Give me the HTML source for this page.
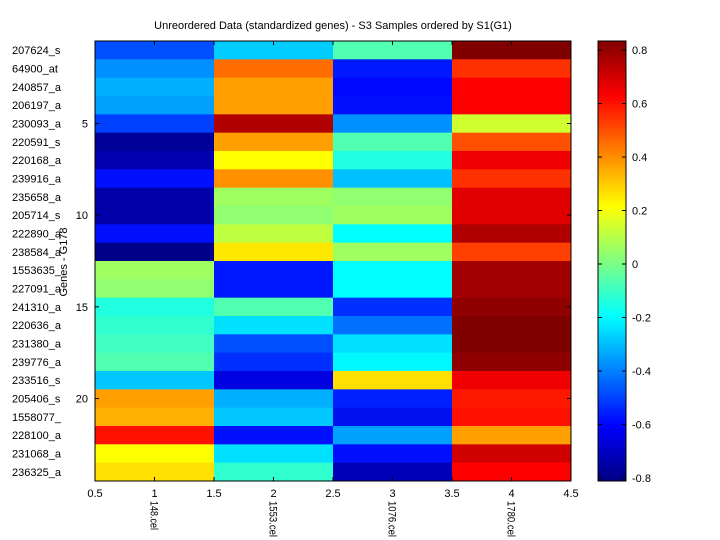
<!DOCTYPE html>
<html><head><style>body{margin:0;background:#fff}svg{display:block}text{font-family:"Liberation Sans",sans-serif;font-size:11px;fill:#000}</style></head><body>
<svg width="720" height="540" xmlns="http://www.w3.org/2000/svg">
<defs><linearGradient id="jet" x1="0" y1="0" x2="0" y2="1">
<stop offset="0" stop-color="#800000"/><stop offset="0.125" stop-color="#ff0000"/><stop offset="0.375" stop-color="#ffff00"/><stop offset="0.625" stop-color="#00ffff"/><stop offset="0.875" stop-color="#0000ff"/><stop offset="1" stop-color="#000080"/></linearGradient></defs>
<text x="333" y="29" text-anchor="middle">Unreordered Data (standardized genes) - S3 Samples ordered by S1(G1)</text>
<g id="cells"></g>
<rect x="95" y="41" width="476" height="440" fill="none" stroke="#000"/>
<g id="lab"></g>
<rect x="598" y="41" width="28" height="440" fill="url(#jet)" stroke="#000"/>
<g id="cb"></g>
<text transform="translate(67,262) rotate(-90)" text-anchor="middle">Genes - G178</text>
<script>
var rows=[["207624_s","#0050ff","#00ccff","#50ffb0","#800000"],["64900_at","#0090ff","#ff6c00","#0018ff","#ff3000"],["240857_a","#00b0ff","#ffa000","#0008ff","#ff0000"],["206197_a","#00a0ff","#ffa000","#0010ff","#ff0000"],["230093_a","#0040ff","#b00000","#0090ff","#d0ff30"],["220591_s","#000098","#ffa000","#50ffb0","#ff5000"],["220168_a","#0000b0","#ffff00","#20ffe0","#f00000"],["239916_a","#0010ff","#ff9000","#00c0ff","#ff3000"],["235658_a","#0000a8","#a0ff60","#90ff70","#e00000"],["205714_s","#0000a8","#90ff70","#a0ff60","#e00000"],["222890_a","#0010ff","#c0ff40","#00ffff","#b00000"],["238584_a","#000088","#ffe800","#a0ff60","#ff4000"],["1553635_","#a0ff60","#0018ff","#00ffff","#a00000"],["227091_a","#90ff70","#0018ff","#00ffff","#a00000"],["241310_a","#20ffe0","#50ffb0","#0030ff","#900000"],["220636_a","#30ffd0","#00e0ff","#0070ff","#800000"],["231380_a","#40ffc0","#0050ff","#00e0ff","#800000"],["239776_a","#50ffb0","#0030ff","#00f8ff","#900000"],["233516_s","#00c8ff","#0000e0","#ffe000","#f00000"],["205406_s","#ffa000","#00b0ff","#0020ff","#ff1800"],["1558077_","#ffb000","#00c8ff","#0010f0","#ff1000"],["228100_a","#ff1000","#0010ff","#00a0ff","#ffa000"],["231068_a","#ffff00","#00e0ff","#0010ff","#d00000"],["236325_a","#ffe000","#30ffd0","#0000b8","#ff0000"]];
var NS="http://www.w3.org/2000/svg",c=document.getElementById("cells"),l=document.getElementById("lab"),cb=document.getElementById("cb");
function el(p,t,a,tx){var e=document.createElementNS(NS,t);for(var k in a)e.setAttribute(k,a[k]);if(tx!=null)e.textContent=tx;p.appendChild(e);return e;}
var rh=440/24,cw=119;
rows.forEach(function(r,i){var y=41+i*rh;for(var j=0;j<4;j++)el(c,"rect",{x:95+j*cw,y:y,width:cw+0.5,height:rh+0.5,fill:r[j+1]});
el(l,"text",{x:12,y:y+rh/2+4},r[0]);
if((i+1)%5==0){var yc=y+rh/2;el(l,"text",{x:88,y:yc+4,"text-anchor":"end"},String(i+1));el(l,"line",{x1:95,y1:yc,x2:99,y2:yc,stroke:"#000"});el(l,"line",{x1:571,y1:yc,x2:567,y2:yc,stroke:"#000"});}});
var xl=["0.5","1","1.5","2","2.5","3","3.5","4","4.5"];
xl.forEach(function(t,k){var x=95+k*cw/2;el(l,"text",{x:x,y:497,"text-anchor":"middle"},t);el(l,"line",{x1:x,y1:481,x2:x,y2:477,stroke:"#000"});el(l,"line",{x1:x,y1:41,x2:x,y2:45,stroke:"#000"});});
[["148.cel",29],["1553.cel",36],["1076.cel",36],["1780.cel",36]].forEach(function(t,k){var x=95+cw/2+k*cw-4;el(l,"text",{transform:"translate("+x+",501) rotate(90)",textLength:t[1],lengthAdjust:"spacingAndGlyphs"},t[0]);});
for(var v=-4;v<=4;v++){var y=264-v*53.5;el(cb,"line",{x1:598,y1:y,x2:602,y2:y,stroke:"#000"});el(cb,"line",{x1:626,y1:y,x2:622,y2:y,stroke:"#000"});var s=(v*0.2).toFixed(1);if(v==0)s="0";el(cb,"text",{x:632,y:y+4},s);}
</script>
</svg></body></html>
